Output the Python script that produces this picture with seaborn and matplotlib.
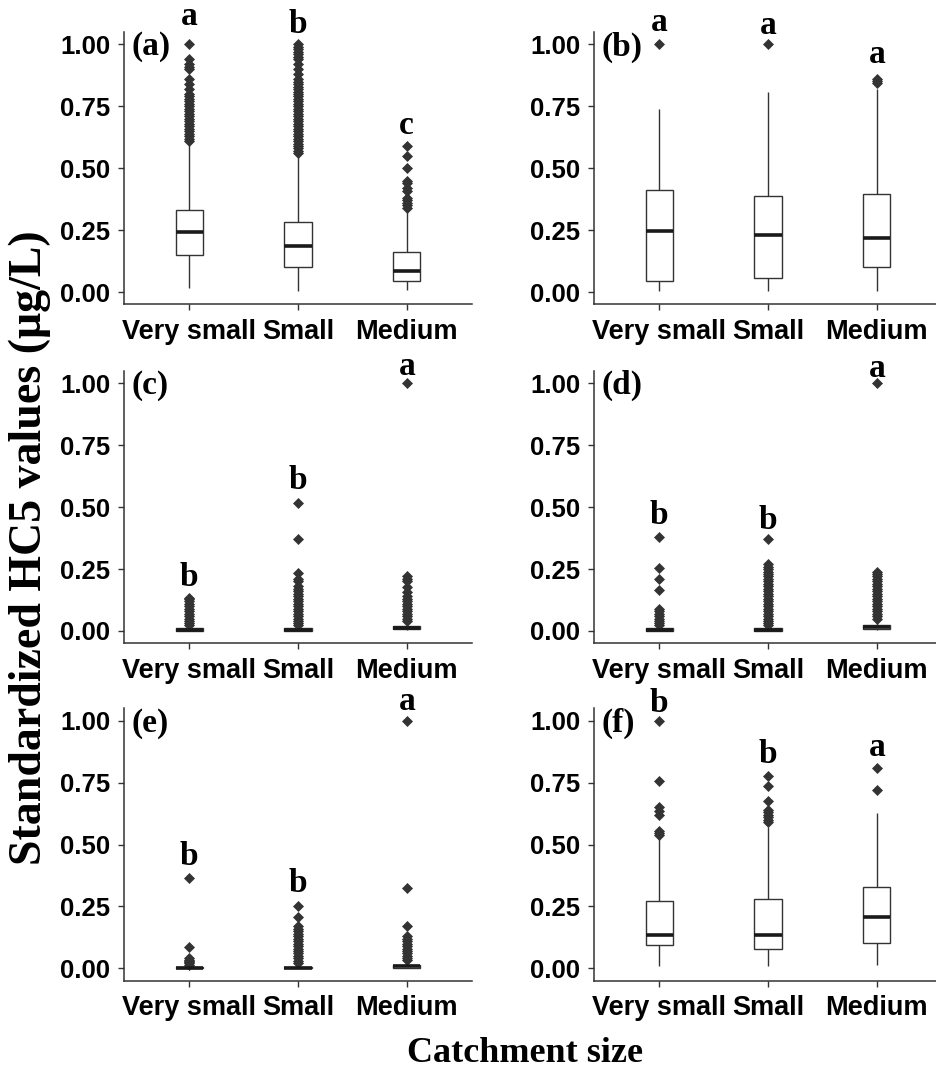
import numpy as np
import pandas as pd
import matplotlib
matplotlib.use("Agg")
import matplotlib.pyplot as plt
import seaborn as sns

# ---------------- data ----------------
categories = ["Very small", "Small", "Medium"]
panel_tags = ["(a)", "(b)", "(c)", "(d)", "(e)", "(f)"]
y_ticks = [0.00, 0.25, 0.50, 0.75, 1.00]
y_tick_labels = ["0.00", "0.25", "0.50", "0.75", "1.00"]

# box summaries per panel: [Very small, Small, Medium]
lo_a = [0.016, 0.005, 0.009]
q1_a = [0.148, 0.101, 0.046]
med_a = [0.241, 0.186, 0.084]
q3_a = [0.330, 0.283, 0.162]
hi_a = [0.600, 0.550, 0.330]
out_a = [
    [0.61, 0.62, 0.63, 0.64, 0.65, 0.66, 0.67, 0.68, 0.69, 0.70, 0.71, 0.72, 0.73, 0.74,
     0.75, 0.76, 0.77, 0.78, 0.79, 0.80, 0.82, 0.84, 0.86, 0.90, 0.91, 0.92, 0.94, 1.00],
    [0.56, 0.57, 0.58, 0.59, 0.60, 0.61, 0.62, 0.63, 0.64, 0.65, 0.66, 0.67, 0.68, 0.69,
     0.70, 0.71, 0.72, 0.73, 0.74, 0.75, 0.76, 0.77, 0.78, 0.79, 0.80, 0.81, 0.82, 0.83,
     0.84, 0.85, 0.86, 0.88, 0.90, 0.92, 0.94, 0.95, 0.96, 0.97, 0.98, 0.99, 1.00],
    [0.34, 0.35, 0.36, 0.37, 0.38, 0.41, 0.42, 0.44, 0.45, 0.50, 0.55, 0.59],
]
letters_a = ["a", "b", "c"]

lo_b = [0.003, 0.003, 0.003]
q1_b = [0.046, 0.055, 0.102]
med_b = [0.248, 0.229, 0.217]
q3_b = [0.414, 0.389, 0.398]
hi_b = [0.740, 0.807, 0.822]
out_b = [[1.00], [1.00], [0.845, 0.852, 0.860]]
letters_b = ["a", "a", "a"]

lo_c = [0.000, 0.000, 0.003]
q1_c = [0.001, 0.001, 0.008]
med_c = [0.004, 0.004, 0.013]
q3_c = [0.010, 0.010, 0.020]
hi_c = [0.020, 0.020, 0.035]
out_c = [
    [0.025, 0.03, 0.04, 0.05, 0.06, 0.07, 0.08, 0.09, 0.10, 0.11, 0.12, 0.13, 0.135],
    [0.025, 0.03, 0.04, 0.05, 0.06, 0.07, 0.08, 0.09, 0.10, 0.11, 0.12, 0.13, 0.14, 0.15,
     0.16, 0.17, 0.18, 0.20, 0.21, 0.235, 0.37, 0.515],
    [0.04, 0.05, 0.06, 0.07, 0.08, 0.09, 0.10, 0.11, 0.12, 0.13, 0.14, 0.157, 0.177,
     0.20, 0.21, 0.22, 1.00],
]
letters_c = ["b", "b", "a"]

lo_d = [0.000, 0.000, 0.003]
q1_d = [0.001, 0.001, 0.008]
med_d = [0.004, 0.004, 0.014]
q3_d = [0.010, 0.010, 0.022]
hi_d = [0.020, 0.020, 0.040]
out_d = [
    [0.025, 0.03, 0.04, 0.05, 0.06, 0.07, 0.08, 0.09, 0.164, 0.211, 0.254, 0.379],
    [0.025, 0.03, 0.04, 0.05, 0.06, 0.07, 0.08, 0.09, 0.10, 0.11, 0.12, 0.13, 0.14, 0.15,
     0.16, 0.17, 0.18, 0.19, 0.20, 0.21, 0.22, 0.23, 0.24, 0.25, 0.26, 0.27, 0.37],
    [0.05, 0.06, 0.07, 0.08, 0.09, 0.10, 0.11, 0.12, 0.13, 0.14, 0.15, 0.16, 0.17, 0.18,
     0.19, 0.20, 0.21, 0.22, 0.23, 0.24, 1.00],
]
letters_d = ["b", "b", "a"]

lo_e = [0.000, 0.000, 0.000]
q1_e = [0.000, 0.000, 0.003]
med_e = [0.002, 0.002, 0.008]
q3_e = [0.005, 0.006, 0.014]
hi_e = [0.010, 0.012, 0.030]
out_e = [
    [0.015, 0.02, 0.025, 0.03, 0.035, 0.04, 0.088, 0.363],
    [0.02, 0.03, 0.04, 0.05, 0.06, 0.07, 0.08, 0.09, 0.10, 0.11, 0.12, 0.13, 0.14, 0.15,
     0.16, 0.17, 0.206, 0.253],
    [0.035, 0.04, 0.05, 0.06, 0.07, 0.08, 0.09, 0.10, 0.11, 0.12, 0.13, 0.171, 0.325, 1.00],
]
letters_e = ["b", "b", "a"]

lo_f = [0.009, 0.009, 0.013]
q1_f = [0.093, 0.080, 0.101]
med_f = [0.133, 0.133, 0.208]
q3_f = [0.270, 0.282, 0.330]
hi_f = [0.535, 0.569, 0.627]
out_f = [
    [0.540, 0.548, 0.556, 0.620, 0.635, 0.650, 0.755, 1.00],
    [0.59, 0.60, 0.61, 0.62, 0.63, 0.64, 0.677, 0.737, 0.775],
    [0.72, 0.809],
]
letters_f = ["b", "b", "a"]

# ---------------- layout / style ----------------
letter_y = [
    [1.115, 1.080, 0.672],
    [1.088, 1.077, 0.960],
    [0.217, 0.607, 1.070],
    [0.466, 0.446, 1.060],
    [0.451, 0.344, 1.078],
    [1.070, 0.865, 0.892],
]
W, H = 936, 1072
col_left = [124 / W, 594 / W]
ax_w = 348 / W
row_bottom = [1 - 304.4 / H, 1 - 643.3 / H, 1 - 980.7 / H]
ax_h = 0.254

sans = "Liberation Sans"
serif = "Liberation Serif"
line_col = "#333333"

sns.set_theme(style="white")
plt.rcParams["font.family"] = [sans, "DejaVu Sans"]


def build_sample(lo, q1, med, q3, hi, outl):
    """Build a sample whose boxplot statistics equal the given summary."""
    k = len(outl) + 1
    vals = [lo] + [q1] * k + [med] * k + [q3] * k + [hi] + list(outl)
    return vals


panels = [
    (lo_a, q1_a, med_a, q3_a, hi_a, out_a, letters_a),
    (lo_b, q1_b, med_b, q3_b, hi_b, out_b, letters_b),
    (lo_c, q1_c, med_c, q3_c, hi_c, out_c, letters_c),
    (lo_d, q1_d, med_d, q3_d, hi_d, out_d, letters_d),
    (lo_e, q1_e, med_e, q3_e, hi_e, out_e, letters_e),
    (lo_f, q1_f, med_f, q3_f, hi_f, out_f, letters_f),
]

fig = plt.figure(figsize=(W / 100, H / 100), dpi=100)

for i, (lo, q1, med, q3, hi, outl, letters) in enumerate(panels):
    r, c = divmod(i, 2)
    ax = fig.add_axes([col_left[c], row_bottom[r], ax_w, ax_h])
    rows = []
    for j, cat in enumerate(categories):
        for v in build_sample(lo[j], q1[j], med[j], q3[j], hi[j], outl[j]):
            rows.append((cat, v))
    df = pd.DataFrame(rows, columns=["size", "value"])
    sns.boxplot(
        data=df, x="size", y="value", order=categories, ax=ax,
        color="white", linecolor=line_col, linewidth=1.0, width=0.25,
        whis=1.5, showcaps=False,
        medianprops=dict(color="#1a1a1a", linewidth=2.6),
        flierprops=dict(marker="D", markersize=4.6, markerfacecolor=line_col,
                        markeredgecolor=line_col, markeredgewidth=0.5),
    )
    ax.set_xlim(-0.6, 2.6)
    ax.set_ylim(-0.05, 1.05)
    ax.set_yticks(y_ticks)
    ax.set_yticklabels(y_tick_labels)
    ax.set_xlabel("")
    ax.set_ylabel("")
    for s in ["top", "right"]:
        ax.spines[s].set_visible(False)
    for s in ["left", "bottom"]:
        ax.spines[s].set_color(line_col)
        ax.spines[s].set_linewidth(1.1)
    ax.tick_params(axis="both", which="major", length=4.3, width=1.0, color=line_col,
                   bottom=True, left=True, labelcolor="black")
    ax.tick_params(axis="y", pad=5.5)
    ax.tick_params(axis="x", pad=6)
    for lab in ax.get_yticklabels():
        lab.set_fontfamily(sans)
        lab.set_fontweight("bold")
        lab.set_fontsize(18.5)
    for lab in ax.get_xticklabels():
        lab.set_fontfamily(sans)
        lab.set_fontweight("bold")
        lab.set_fontsize(19.5)
    ax.grid(False)
    ax.text(-0.53, 0.99, panel_tags[i], ha="left", va="center",
            fontfamily=serif, fontweight="bold", fontsize=24, color="black")
    for j, L in enumerate(letters):
        ax.text(j, letter_y[i][j], L, ha="center", va="center", clip_on=False,
                fontfamily=serif, fontweight="bold", fontsize=24, color="black")

fig.text(30 / W, 1 - 548 / H, "Standardized HC5 values (μg/L)", rotation=90,
         ha="center", va="center", fontfamily=serif, fontweight="bold", fontsize=33,
         color="black")
fig.text(525 / W, 1 - 1054 / H, "Catchment size", ha="center", va="center",
         fontfamily=serif, fontweight="bold", fontsize=26, color="black")

fig.savefig("out.png", dpi=100, facecolor="white")
